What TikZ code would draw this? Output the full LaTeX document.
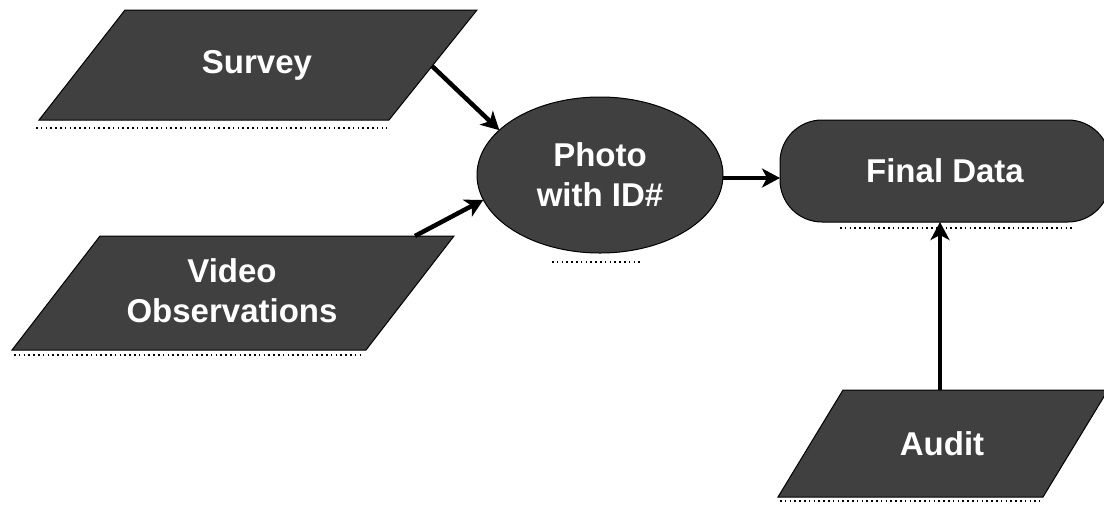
\documentclass[tikz,border=0pt]{standalone}
\usepackage{fontspec}
\setmainfont{Liberation Sans}
\usetikzlibrary{shapes.geometric,arrows.meta}
\definecolor{boxgray}{HTML}{404040}
\tikzset{
  label/.style={text=white, font=\bfseries\fontsize{33}{40}\selectfont,
    align=center, inner sep=0pt, outer sep=0pt},
  base/.style={label, fill=boxgray, draw=black, line width=1pt},
  parafill/.style={fill=boxgray, draw=black, line width=1pt},
  arr/.style={line width=4.5pt, draw=black,
    -{Stealth[length=18pt,width=19pt,inset=5pt]}},
  shade/.style={draw=black, line width=1.6pt, dash pattern=on 1.6pt off 3.2pt}
}
\begin{document}
\begin{tikzpicture}[x=1pt,y=-1pt]
\useasboundingbox (0,0) rectangle (1104,507);
\fill[white] (0,0) rectangle (1104,507);

% shadows
\draw[shade] (36,128) -- (387,128);
\draw[shade] (14,355) -- (364,355);
\draw[shade] (840,228) -- (1075,228);
\draw[shade] (780,501) -- (1040,501);
\draw[shade] (552,262) -- (642,262);

% parallelograms
\draw[parafill] (125,10) -- (477,10) -- (389,120) -- (39,120) -- cycle;
\draw[parafill] (100,236) -- (454,236) -- (366,350) -- (12,350) -- cycle;
\draw[parafill] (843,390) -- (1108,390) -- (1043,497) -- (778,497) -- cycle;

\node[label] (survey) at (257,65) {Survey};
\node[label] (video) at (232,291) {Video\\Observations};
\node[label] (audit) at (942,444) {Audit};
\coordinate (survey-out) at (432,66);
\coordinate (video-out) at (415,236);
\coordinate (audit-out) at (940,390);

\node[base, shape=ellipse, minimum width=246, minimum height=156]
      (photo) at (600,175) {Photo\\with ID\#};
\node[base, shape=rectangle, rounded corners=42pt, minimum width=330,
      minimum height=102] (final) at (945,171) {Final Data};

\draw[arr] (survey-out) -- (photo.156);
\draw[arr] (video-out) -- (photo.192);
\draw[arr] ([yshift=-3pt]photo.east) -- ([yshift=-3pt]photo.east -| final.west);
\draw[arr] (audit-out) -- (audit-out |- final.south);
\end{tikzpicture}
\end{document}
